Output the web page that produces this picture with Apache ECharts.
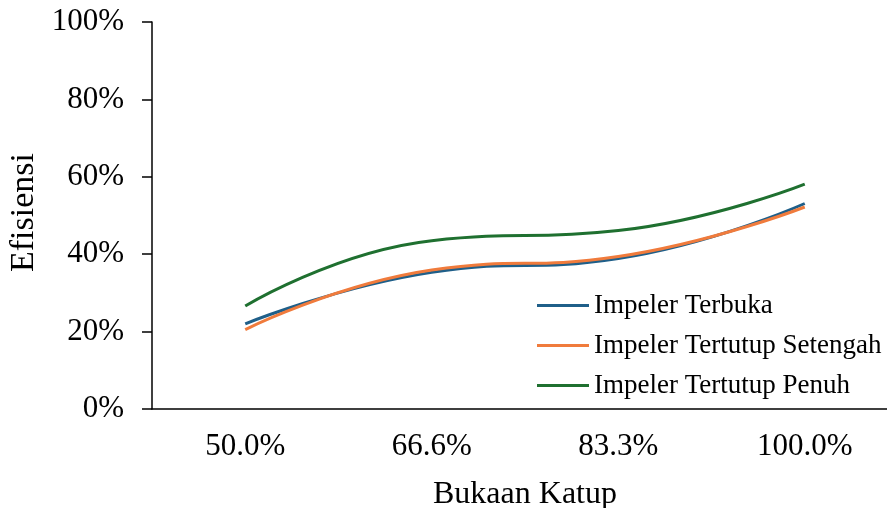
<!DOCTYPE html>
<html>
<head>
<meta charset="utf-8">
<script src="https://cdn.jsdelivr.net/npm/echarts@6/dist/echarts.min.js"></script>
<style>
html,body{margin:0;padding:0;background:#fff;overflow:hidden;}
#wrap{position:fixed;left:0;top:0;width:887px;height:508px;overflow:hidden;}
#chart{position:absolute;left:0;top:0;width:898px;height:508px;}
</style>
</head>
<body>
<div id="wrap"><div id="chart"></div></div>
<script>
const categories = ['50.0%', '66.6%', '83.3%', '100.0%'];
const terbuka = [22.0, 35.3, 38.9, 53.1];
const setengah = [20.5, 35.9, 39.4, 52.2];
const penuh = [26.6, 43.5, 46.1, 58.1];
const yTicks = [0, 20, 40, 60, 80, 100];

const font = '"Liberation Serif", "Times New Roman", serif';
const chart = echarts.init(document.getElementById('chart'), null, { width: 898, height: 508 });
const mk = (name, data, color) => ({
  name, type: 'line', data, smooth: 0.5, symbol: 'none',
  lineStyle: { color, width: 3 }, itemStyle: { color }
});
chart.setOption({
  animation: false,
  textStyle: { fontFamily: font },
  grid: { left: 152, right: 0, top: 22, bottom: 99, containLabel: false, outerBoundsMode: 'none' },
  legend: {
    orient: 'vertical', left: 532, top: 287, itemWidth: 52, itemHeight: 3,
    itemGap: 13, icon: 'rect',
    textStyle: { fontFamily: font, fontSize: 27, color: '#000' },
    data: ['Impeler Terbuka', 'Impeler Tertutup Setengah', 'Impeler Tertutup Penuh']
  },
  xAxis: {
    type: 'category', data: categories, boundaryGap: true,
    name: 'Bukaan Katup', nameLocation: 'middle', nameGap: 70,
    nameTextStyle: { fontFamily: font, fontSize: 32, color: '#000' },
    axisLine: { lineStyle: { color: '#000', width: 1.5 } },
    axisTick: { alignWithLabel: true, length: 6, lineStyle: { color: '#000', width: 1.5 } },
    axisLabel: { fontFamily: font, fontSize: 31, color: '#000', margin: 22 }
  },
  yAxis: {
    type: 'value', min: yTicks[0], max: yTicks[yTicks.length - 1], interval: 20,
    name: 'Efisiensi', nameLocation: 'middle', nameGap: 104, nameRotate: 90,
    nameTextStyle: { fontFamily: font, fontSize: 34, color: '#000', padding: [0, 0, 0, 6] },
    splitLine: { show: false },
    axisLine: { show: true, lineStyle: { color: '#000', width: 1.5 } },
    axisTick: { show: true, length: 10, lineStyle: { color: '#000', width: 1.5 } },
    axisLabel: { fontFamily: font, fontSize: 31, color: '#000', margin: 28, formatter: '{value}%' }
  },
  series: [
    mk('Impeler Terbuka', terbuka, '#1F5F89'),
    mk('Impeler Tertutup Setengah', setengah, '#F07B3C'),
    mk('Impeler Tertutup Penuh', penuh, '#1F7030')
  ]
});
</script>
</body>
</html>
